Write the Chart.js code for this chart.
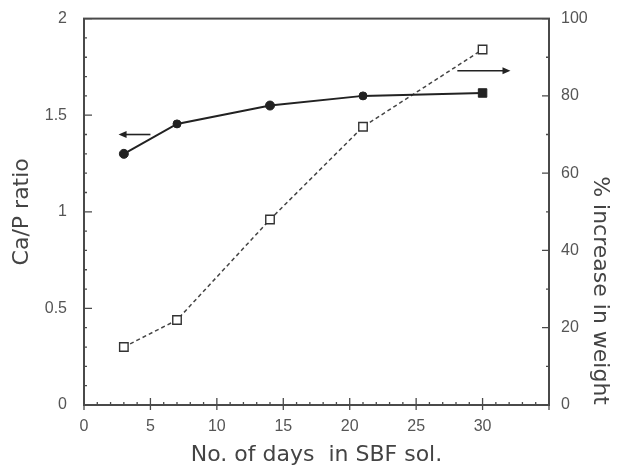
<!DOCTYPE html>
<html>
<head>
<meta charset="utf-8">
<script src="https://cdn.jsdelivr.net/npm/chart.js@4"></script>
<style>
  html, body { margin: 0; padding: 0; background: #fff; }
  #wrap { width: 618px; height: 470px; position: relative; }
</style>
</head>
<body>
<div id="wrap"><canvas id="chart" width="618" height="470"></canvas></div>
<script>
// Values
const days = [3, 7, 14, 21, 30]
const caPRatio = [1.30, 1.455, 1.55, 1.60, 1.615]
const weightIncrease = [15, 22, 48, 72, 92]
const caPMarkers = ['circle', 'circle', 'circle', 'circle', 'rect']

const xTickLabels = [0, 5, 10, 15, 20, 25, 30]
const leftTickLabels = [0, 0.5, 1, 1.5, 2]
const rightTickLabels = [0, 20, 40, 60, 80, 100]

const ink = '#222'
const axisInk = '#4a4a4a'
const labelInk = '#555'
const tickFont = { family: "'Liberation Sans', Arial, sans-serif", size: 16 }
const titleFont = { family: "'DejaVu Sans', 'Liberation Sans', sans-serif", size: 22 }

// Inward tick marks, frame and the two pointer arrows
const framePlugin = {
  id: 'frame',
  afterDraw(chart) {
    const ctx = chart.ctx
    const a = chart.chartArea
    const x = chart.scales.x
    const yl = chart.scales.y
    const yr = chart.scales.y1
    ctx.save()
    ctx.strokeStyle = axisInk
    ctx.lineWidth = 2
    ctx.strokeRect(a.left, a.top, a.right - a.left, a.bottom - a.top)

    ctx.lineWidth = 1.3
    ctx.beginPath()
    for (let d = 0; d <= 35; d++) {
      const px = x.getPixelForValue(d)
      if (d % 5 === 0) {
        ctx.moveTo(px, a.bottom + 5)
        ctx.lineTo(px, a.bottom - 7)
      } else {
        ctx.moveTo(px, a.bottom)
        ctx.lineTo(px, a.bottom - 3)
      }
    }
    for (let i = 0; i <= 20; i++) {
      const py = yl.getPixelForValue(i / 10)
      ctx.moveTo(a.left, py)
      ctx.lineTo(a.left + (i % 5 === 0 ? 8 : 3), py)
    }
    for (let v = 0; v <= 100; v += 10) {
      const py = yr.getPixelForValue(v)
      ctx.moveTo(a.right, py)
      ctx.lineTo(a.right - (v % 20 === 0 ? 7 : 3), py)
    }
    ctx.stroke()

    // arrows telling which axis each curve belongs to
    const arrow = (d0, d1, py) => {
      const x0 = x.getPixelForValue(d0)
      const x1 = x.getPixelForValue(d1)
      const dir = Math.sign(x1 - x0)
      ctx.strokeStyle = ink
      ctx.fillStyle = ink
      ctx.lineWidth = 1.6
      ctx.beginPath()
      ctx.moveTo(x0, py)
      ctx.lineTo(x1 - dir * 6, py)
      ctx.stroke()
      ctx.beginPath()
      ctx.moveTo(x1, py)
      ctx.lineTo(x1 - dir * 8, py - 3.5)
      ctx.lineTo(x1 - dir * 8, py + 3.5)
      ctx.closePath()
      ctx.fill()
    }
    arrow(5.0, 2.6, yl.getPixelForValue(1.40))
    arrow(28.1, 32.1, yr.getPixelForValue(86.5))
    ctx.restore()
  }
}

new Chart(document.getElementById('chart'), {
  type: 'line',
  data: {
    datasets: [
      {
        label: 'Ca/P ratio',
        data: days.map((d, i) => ({ x: d, y: caPRatio[i] })),
        yAxisID: 'y',
        borderColor: ink,
        borderWidth: 2,
        backgroundColor: ink,
        pointStyle: caPMarkers,
        pointRadius: [4.5, 4, 4.5, 4, 6],
        pointBorderWidth: 1,
        pointBorderColor: ink,
        pointBackgroundColor: ink,
        tension: 0
      },
      {
        label: '% increase in weight',
        data: days.map((d, i) => ({ x: d, y: weightIncrease[i] })),
        yAxisID: 'y1',
        borderColor: '#444',
        borderWidth: 1.5,
        borderDash: [4, 3],
        pointStyle: 'rect',
        pointRadius: 6,
        pointBorderWidth: 1.4,
        pointBorderColor: '#333',
        pointBackgroundColor: '#fff',
        tension: 0
      }
    ]
  },
  options: {
    responsive: false,
    animation: false,
    layout: { padding: { top: 17, right: 0, left: 0, bottom: 0 } },
    plugins: { legend: { display: false }, tooltip: { enabled: false } },
    scales: {
      x: {
        type: 'linear',
        min: 0,
        max: 35,
        afterBuildTicks: s => { s.ticks = xTickLabels.map(v => ({ value: v })) },
        afterFit: s => { s.height = 65 },
        grid: { display: false },
        border: { display: false },
        ticks: { color: labelInk, font: tickFont, padding: 4, maxRotation: 0, callback: v => String(v) },
        title: { display: true, text: 'No. of days  in SBF sol.', color: '#444', font: titleFont, padding: { top: 0, bottom: 2 } }
      },
      y: {
        position: 'left',
        min: 0,
        max: 2,
        afterBuildTicks: s => { s.ticks = leftTickLabels.map(v => ({ value: v })) },
        afterFit: s => { s.width = 84 },
        grid: { display: false },
        border: { display: false },
        ticks: { color: labelInk, font: tickFont, padding: 9, callback: v => String(v) },
        title: { display: true, text: 'Ca/P ratio', color: '#444', font: titleFont, padding: { top: 9, bottom: 0 } }
      },
      y1: {
        position: 'right',
        min: 0,
        max: 100,
        afterBuildTicks: s => { s.ticks = rightTickLabels.map(v => ({ value: v })) },
        afterFit: s => { s.width = 69 },
        grid: { display: false },
        border: { display: false },
        ticks: { color: labelInk, font: tickFont, padding: 4, callback: v => String(v) },
        title: { display: true, text: '% increase in weight', color: '#444', font: titleFont, align: 'start', padding: { top: 5, bottom: 0 } }
      }
    }
  },
  plugins: [framePlugin]
})
</script>
</body>
</html>
